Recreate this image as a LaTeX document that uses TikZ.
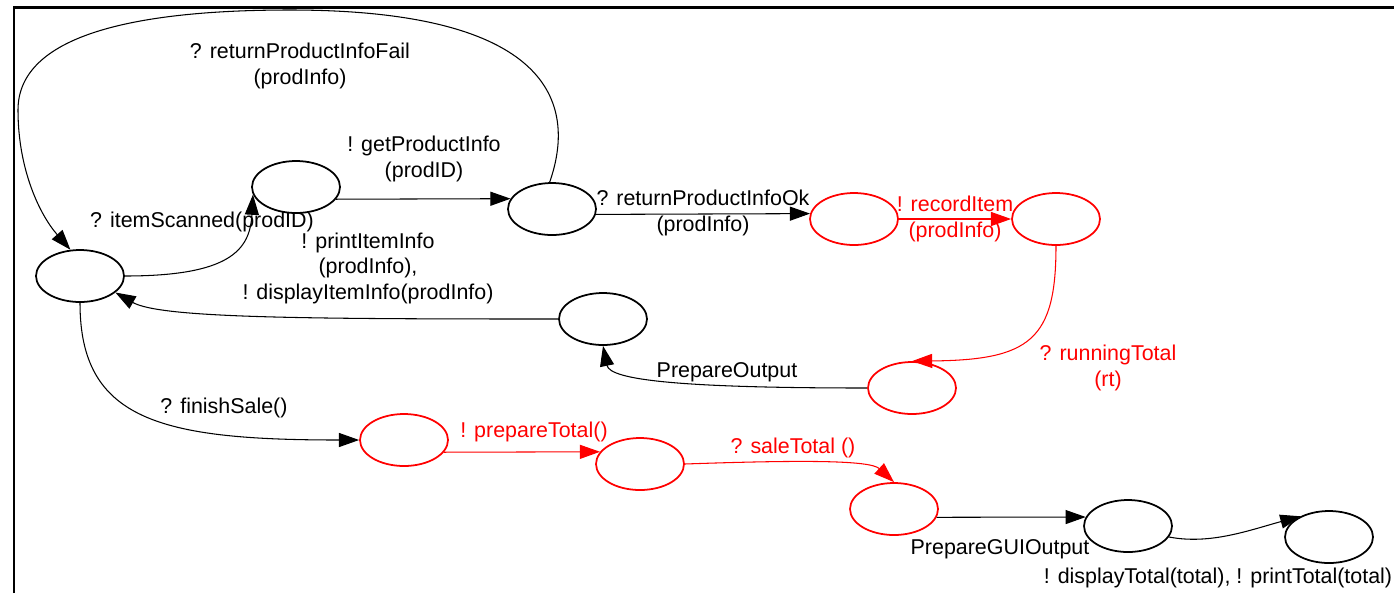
\documentclass[tikz,border=0pt]{standalone}
\usepackage{fontspec}
\setmainfont{Liberation Sans}
\usepackage{tikz}
\usetikzlibrary{arrows.meta,shapes.geometric}
\definecolor{actred}{HTML}{FF0000}

\begin{document}
\begin{tikzpicture}[x=0.02cm, y=-0.02cm,
  loc/.style={ellipse, draw, line width=1pt, minimum width=1.76cm, minimum height=1.04cm, inner sep=0pt},
  redloc/.style={loc, draw=actred},
  trans/.style={line width=0.6pt, -{Triangle[length=11.5pt,width=8pt]}},
  redtrans/.style={trans, color=actred},
  lbl/.style={align=center, inner sep=0pt, font=\fontsize{12.2}{14.5}\selectfont}]
  \useasboundingbox (0,0) rectangle (1394,593);

  % Frame (open at right and bottom)
  \draw[line width=1.7pt] (14,593) -- (14,7) -- (1394,7);

  % Locations
  \node[loc]    (idle)    at (80,276)   {};
  \node[loc]    (scanned) at (296,187)  {};
  \node[loc]    (waitInfo) at (552,209) {};
  \node[redloc] (gotInfo) at (854,219)  {};
  \node[redloc] (recorded) at (1056,219) {};
  \node[loc]    (output)  at (603,319)  {};
  \node[redloc] (total)   at (912,388)  {};
  \node[redloc] (finish)  at (404,440)  {};
  \node[redloc] (prepared) at (640,464) {};
  \node[redloc] (saleTot) at (894,509)  {};
  \node[loc]    (gui)     at (1128,526) {};
  \node[loc]    (done)    at (1329,537) {};

  % Item loop
  \draw[trans] (idle.east) .. controls (230,276) and (250,250) .. (scanned.190);
  \node[lbl] (lScan) at (202,222) {? itemScanned(prodID)};

  \draw[trans] (scanned.-17) -- (waitInfo.166);
  \node[lbl] (lGet) at (424,159) {! getProductInfo\\(prodID)};

  \draw[trans] (waitInfo.95) .. controls (575,110) and (560,10) .. (290,10)
    .. controls (120,10) and (18,40) .. (18,110)
    .. controls (18,170) and (40,215) .. (idle.110);
  \node[lbl] (lFail) at (300,66) {? returnProductInfoFail\\(prodInfo)};

  \draw[trans] (waitInfo.-7) -- (gotInfo.173);
  \node[lbl] (lOk) at (703,213) {? returnProductInfoOk\\(prodInfo)};

  \draw[redtrans] (gotInfo.east) -- (recorded.west);
  \node[lbl, actred] (lRecord) at (955,219) {! recordItem\\(prodInfo)};

  \draw[redtrans] (recorded.south) .. controls (1056,340) and (1030,360) .. (total.north);
  \node[lbl, actred] (lRun) at (1108,368) {? runningTotal\\(rt)};

  \draw[trans] (total.west) .. controls (680,388) and (610,380) .. (output.south);
  \node[lbl] (lPrep) at (727,372) {PrepareOutput};

  \draw[trans] (output.west) .. controls (300,319) and (160,318) .. (idle.-25);
  \node[lbl] (lPrint) at (368,268) {! printItemInfo\\(prodInfo),\\! displayItemInfo(prodInfo)};

  % Finishing the sale
  \draw[trans] (idle.south) .. controls (80,420) and (160,440) .. (finish.west);
  \node[lbl] (lFinish) at (224,408) {? finishSale()};

  \draw[redtrans] (finish.-17) -- (prepared.163);
  \node[lbl, actred] (lPrepTot) at (534,432) {! prepareTotal()};

  \draw[redtrans] (prepared.east) .. controls (800,460) and (870,460) .. (saleTot.north);
  \node[lbl, actred] (lSale) at (793,448) {? saleTotal ()};

  \draw[trans] (saleTot.-11) -- (gui.168);
  \node[lbl] (lGui) at (1000,549) {PrepareGUIOutput};

  \draw[trans] (gui.-15) .. controls (1210,545) and (1250,530) .. (done.144);
  \node[lbl] (lDisp) at (1218,578) {! displayTotal(total), ! printTotal(total)};
\end{tikzpicture}
\end{document}
